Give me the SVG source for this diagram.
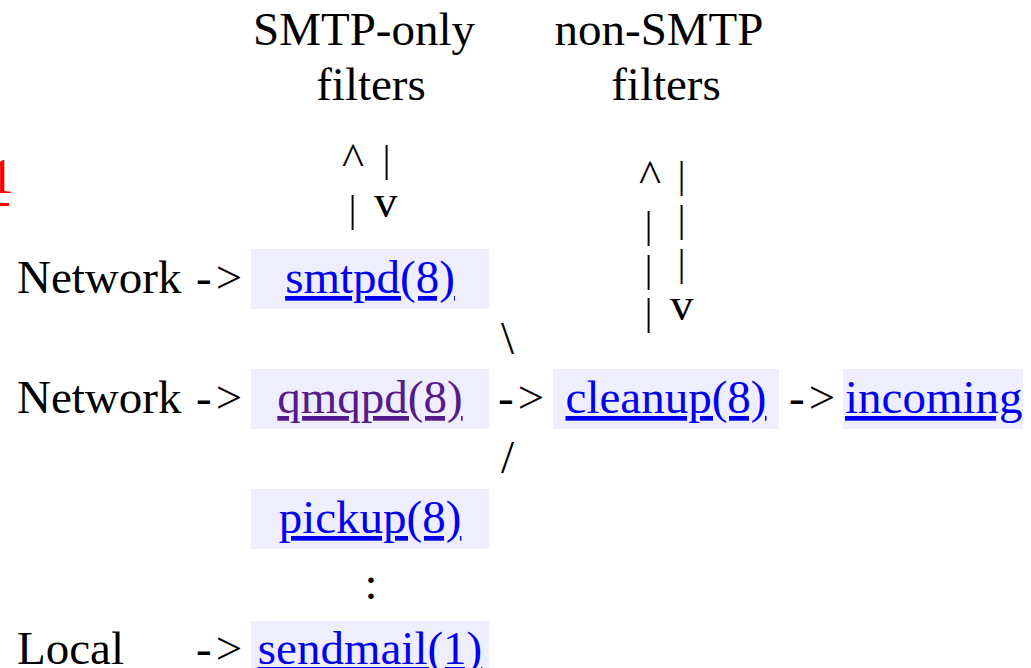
<svg xmlns="http://www.w3.org/2000/svg" width="1031" height="668" viewBox="0 0 1031 668">
<style>
.t{font-family:"Liberation Serif","Times New Roman",serif;font-size:47px;fill:#000}
.lnk{fill:#0000EE;text-decoration:underline}
.vis{fill:#551A8B;text-decoration:underline}
.box{fill:#EEEEFF}
.bar{font-size:38px}
.m{text-anchor:middle}
</style>
<rect width="1031" height="668" fill="#fff"/>
<g id="red-link">
<text class="t" x="-11" y="193" style="font-size:50px;fill:#FF0000">1</text>
<rect x="0" y="203" width="9" height="3" fill="#FF0000"/>
</g>
<g id="header-smtp-only">
<text class="t m" x="364" y="45">SMTP-only</text>
<text class="t m" x="371" y="100">filters</text>
</g>
<g id="header-non-smtp">
<text class="t m" x="659" y="45">non-SMTP</text>
<text class="t m" x="666" y="100">filters</text>
</g>
<g id="src-network-1"><text class="t" x="17" y="293">Network</text></g>
<g id="src-network-2"><text class="t" x="17" y="413">Network</text></g>
<g id="src-local"><text class="t" x="17" y="664">Local</text></g>
<g id="node-smtpd">
<rect class="box" x="251" y="249" width="238" height="60"/>
<text class="t m lnk" x="370" y="293">smtpd(8)</text>
</g>
<g id="node-qmqpd">
<rect class="box" x="251" y="369" width="238" height="60"/>
<text class="t m vis" x="370" y="413">qmqpd(8)</text>
</g>
<g id="node-pickup">
<rect class="box" x="251" y="489" width="238" height="60"/>
<text class="t m lnk" x="370" y="533">pickup(8)</text>
</g>
<g id="node-sendmail">
<rect class="box" x="251" y="621" width="238" height="60"/>
<text class="t m lnk" x="370" y="664">sendmail(1)</text>
</g>
<g id="node-cleanup">
<rect class="box" x="553" y="369" width="226" height="60"/>
<text class="t m lnk" x="666" y="413">cleanup(8)</text>
</g>
<g id="node-incoming">
<rect class="box" x="843" y="369" width="180" height="60"/>
<text class="t lnk" x="845" y="413">incoming</text>
</g>
<g id="connectors">
<text class="t" x="196" y="293" letter-spacing="4">-&gt;</text>
<text class="t" x="196" y="413" letter-spacing="4">-&gt;</text>
<text class="t" x="196" y="664" letter-spacing="4">-&gt;</text>
<text class="t" x="498" y="413" letter-spacing="4">-&gt;</text>
<text class="t" x="789" y="413" letter-spacing="4">-&gt;</text>
<text class="t" x="501" y="354">\</text>
<text class="t" x="501" y="473">/</text>
<text class="t m" x="371" y="599">:</text>
<text class="t" x="342" y="175">^</text>
<text class="t bar" x="382.8" y="172">|</text>
<text class="t bar" x="348.8" y="222">|</text>
<text class="t" x="374" y="217">v</text>
<text class="t" x="639" y="192">^</text>
<text class="t bar" x="677.8" y="188">|</text>
<text class="t bar" x="677.8" y="232">|</text>
<text class="t bar" x="677.8" y="276">|</text>
<text class="t bar" x="644.8" y="238">|</text>
<text class="t bar" x="644.8" y="282">|</text>
<text class="t bar" x="644.8" y="325">|</text>
<text class="t" x="670" y="320">v</text>
</g>
</svg>
